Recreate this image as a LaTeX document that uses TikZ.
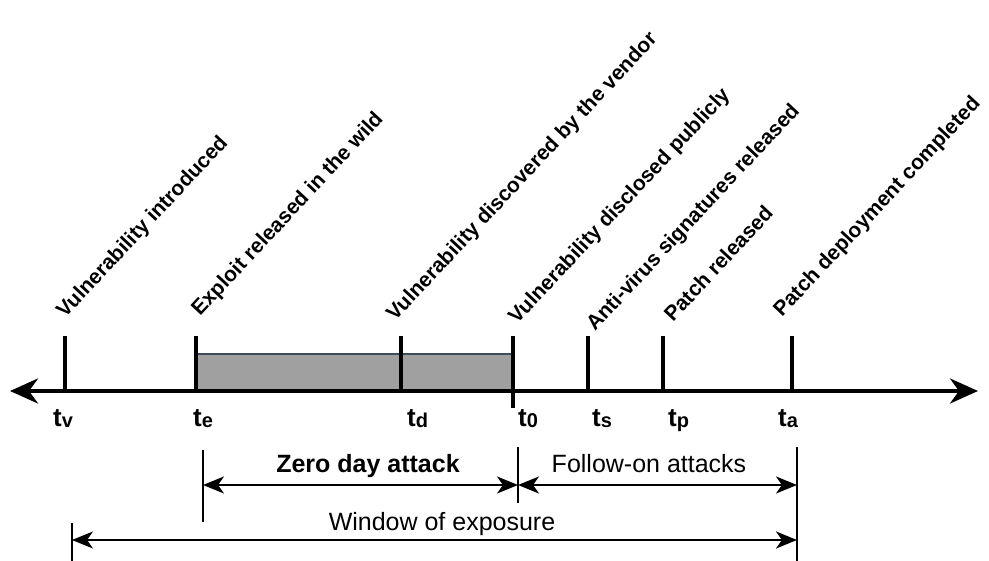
\documentclass[tikz,border=0pt]{standalone}
\usepackage{fontspec}
\setmainfont{Liberation Sans}
\usetikzlibrary{arrows.meta}
\definecolor{boxgray}{HTML}{A0A0A0}
\definecolor{boxedge}{HTML}{3E4B5A}
% time label: bold t with a smaller bold index
\newcommand{\tmark}[1]{{\bfseries\fontsize{26}{28}\selectfont t\fontsize{20}{22}\selectfont\raisebox{-1pt}{#1}}}
\begin{document}
\begin{tikzpicture}[x=1pt,y=-1pt,
  axisline/.style={line width=4pt,
    {Stealth[length=28pt,width=25pt,inset=9pt]}-{Stealth[length=28pt,width=25pt,inset=9pt]}},
  tickline/.style={line width=3.6pt},
  spanbar/.style={line width=2.4pt},
  spanarrow/.style={line width=2.4pt,
    {Stealth[length=21pt,width=17pt,inset=6pt]}-{Stealth[length=21pt,width=17pt,inset=6pt]}},
  event/.style={anchor=base west, inner sep=0pt, rotate=47,
    font=\fontsize{21}{23}\selectfont\bfseries},
  tlabel/.style={anchor=base west, inner sep=0pt},
  spanlabel/.style={anchor=base, inner sep=0pt, font=\fontsize{25}{27}\selectfont},
]
\useasboundingbox (0,0) rectangle (989,561);

% points on the time axis
\coordinate (L) at (10,391);
\coordinate (R) at (978,391);
\foreach \n/\x in {v/65, e/196, d/401, z/513, s/588, p/663, a/792}{
  \coordinate (b\n) at (\x,391);
  \coordinate (u\n) at (\x,336);
}
\coordinate (zlow) at (513,408);

% zero-day interval
\draw[fill=boxgray, draw=boxedge, line width=1.2pt] (197,354) rectangle (513,391);

% axis and event ticks
\draw[axisline] (L) -- (R);
\foreach \n in {v,e,d,s,p,a}{
  \draw[tickline] (u\n) -- (b\n);
}
\draw[line width=4.4pt] (uz) -- (zlow);

% event descriptions
\node[event] (ev) at (65,319) {Vulnerability introduced};
\node[event] (ee) at (200,317) {Exploit released in the wild};
\node[event] (ed) at (395,322) {Vulnerability discovered by the vendor};
\node[event] (ez) at (517,325) {Vulnerability disclosed publicly};
\node[event] (es) at (595,332) {Anti-virus signatures released};
\node[event] (ep) at (673,323) {Patch released};
\node[event] (ea) at (782,318) {Patch deployment completed};

% time labels
\node[tlabel] (tv) at (53,427) {\tmark{v}};
\node[tlabel] (te) at (193,427) {\tmark{e}};
\node[tlabel] (td) at (407,427) {\tmark{d}};
\node[tlabel] (t0) at (518,427) {\tmark{0}};
\node[tlabel] (ts) at (592,427) {\tmark{s}};
\node[tlabel] (tp) at (668,427) {\tmark{p}};
\node[tlabel] (ta) at (778,427) {\tmark{a}};

% interval bars
\coordinate (zt) at (203,450); \coordinate (zb) at (203,522);
\coordinate (mt) at (518,447); \coordinate (mb) at (518,503);
\coordinate (at) at (797,447); \coordinate (ab) at (797,561);
\coordinate (wt) at (72,523);  \coordinate (wb) at (72,561);
\draw[spanbar] (zt) -- (zb);
\draw[spanbar] (mt) -- (mb);
\draw[spanbar] (at) -- (ab);
\draw[spanbar] (wt) -- (wb);

% interval arrows
\coordinate (z1) at (203,485); \coordinate (z2) at (518,485);
\coordinate (f2) at (797,485);
\coordinate (w1) at (72,540);  \coordinate (w2) at (797,540);
\draw[spanarrow] (z1) -- (z2);
\draw[spanarrow] (z2) -- (f2);
\draw[spanarrow] (w1) -- (w2);

% interval names
\node[spanlabel, font=\fontsize{25}{27}\selectfont\bfseries] (zda) at (368,473) {Zero day attack};
\node[spanlabel] (foa) at (649,472) {Follow-on attacks};
\node[spanlabel] (woe) at (442,530) {Window of exposure};
\end{tikzpicture}
\end{document}
